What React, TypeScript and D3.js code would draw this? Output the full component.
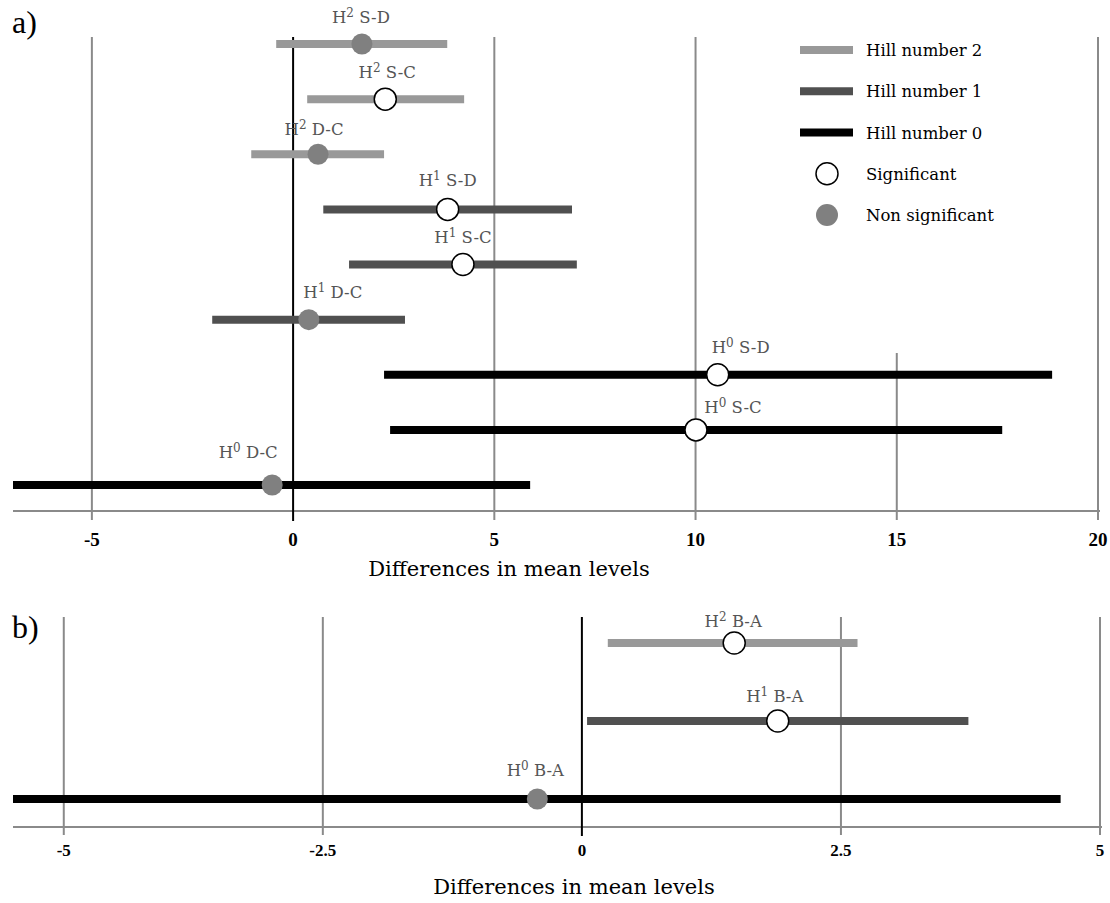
import React from "react";
import * as d3 from "d3";

// ---------- Data: panel a ----------
const hillA = [2, 2, 2, 1, 1, 1, 0, 0, 0];
const compA = ["S-D", "S-C", "D-C", "S-D", "S-C", "D-C", "S-D", "S-C", "D-C"];
const meanA = [1.71, 2.29, 0.62, 3.84, 4.22, 0.39, 10.55, 10.01, -0.52];
const lowA = [-0.42, 0.35, -1.04, 0.75, 1.39, -2.01, 2.26, 2.41, -7.5];
const highA = [3.83, 4.25, 2.26, 6.93, 7.05, 2.78, 18.86, 17.62, 5.89];
const sigA = [false, true, false, true, true, false, true, true, false];
const ticksA = [-5, 0, 5, 10, 15, 20];

// ---------- Data: panel b ----------
const hillB = [2, 1, 0];
const compB = ["B-A", "B-A", "B-A"];
const meanB = [1.47, 1.89, -0.43];
const lowB = [0.25, 0.05, -6.0];
const highB = [2.66, 3.73, 4.62];
const sigB = [true, true, false];
const ticksB = [-5, -2.5, 0, 2.5, 5];
const tickLabelsB = ["-5", "-2.5", "0", "2.5", "5"];

const legendItems = ["Hill number 2", "Hill number 1", "Hill number 0", "Significant", "Non significant"];

// ---------- Layout / style ----------
const hillColor: Record<number, string> = { 2: "#999999", 1: "#505050", 0: "#000000" };
const labelNudgeA = [[-1, 27], [2, 27], [-4, 25], [0, 29], [0, 28], [24, 28], [23, 28], [37, 23], [-24, 33]];
const labelNudgeB = [[-1, 22], [-3, 25], [-2, 29]];
const FONT = "'DejaVu Serif', serif";
const TICKFONT = "'Liberation Serif', 'Times New Roman', serif";

function Label({ x, y, hill, comp }: { x: number; y: number; hill: number; comp: string }) {
  return (
    <text x={x} y={y} textAnchor="middle" fill="#555555" fontFamily={FONT} fontSize={16.5}>
      <tspan>H</tspan>
      <tspan dy={-6} fontSize={12}>{hill}</tspan>
      <tspan dy={6}>{" " + comp}</tspan>
    </text>
  );
}

function Panel({
  xScale, yScale, ticks, tickLabels, hill, comp, mean, low, high, sig, nudge,
  gridTop, axisY, gridBottom, zeroTop, tickLabelY, tickSize, titleY, titleX, panelLabel, panelLabelY, gridTopOverride,
}: any) {
  const [x0, x1] = xScale.range();
  return (
    <g>
      <defs>
        <clipPath id={"clip" + panelLabel}>
          <rect x={x0} y={0} width={x1 - x0 + 20} height={903} />
        </clipPath>
      </defs>
      {ticks.filter((t: number) => t !== 0).map((t: number) => (
        <line key={t} x1={xScale(t)} x2={xScale(t)} y1={gridTopOverride?.[t] ?? gridTop} y2={gridBottom}
          stroke="#8a8a8a" strokeWidth={2} />
      ))}
      <line x1={x0} x2={x1 + 2} y1={axisY} y2={axisY} stroke="#8a8a8a" strokeWidth={2} />
      <line x1={xScale(0)} x2={xScale(0)} y1={zeroTop} y2={gridBottom + 1} stroke="#000" strokeWidth={2} />
      {ticks.map((t: number, i: number) => (
        <text key={t} x={xScale(t)} y={tickLabelY} textAnchor="middle" fontFamily={TICKFONT} fontWeight="bold"
          fontSize={tickSize} fill="#000">{tickLabels ? tickLabels[i] : String(t)}</text>
      ))}
      <g clipPath={`url(#clip${panelLabel})`}>
        {mean.map((m: number, i: number) => (
          <line key={i} x1={xScale(low[i])} x2={xScale(high[i])} y1={yScale(i)} y2={yScale(i)}
            stroke={hillColor[hill[i]]} strokeWidth={8} />
        ))}
      </g>
      {mean.map((m: number, i: number) => (
        <circle key={i} cx={xScale(m)} cy={yScale(i)} r={sig[i] ? 11 : 10.5}
          fill={sig[i] ? "#fff" : "#808080"} stroke={sig[i] ? "#000" : "none"} strokeWidth={1.5} />
      ))}
      {mean.map((m: number, i: number) => (
        <Label key={i} x={xScale(m) + nudge[i][0]} y={yScale(i) - nudge[i][1] + 6} hill={hill[i]} comp={comp[i]} />
      ))}
      <text x={titleX} y={titleY} textAnchor="middle" fontFamily={FONT} fontSize={21} fill="#000">
        Differences in mean levels
      </text>
      <text x={12} y={panelLabelY} fontFamily={TICKFONT} fontSize={32} fill="#000">{panelLabel})</text>
    </g>
  );
}

export default function App() {
  const xA = d3.scaleLinear().domain([-6.96, 20]).range([13, 1098]);
  const yA = d3.scalePoint<number>().domain(d3.range(hillA.length)).range([44, 485]);
  const xB = d3.scaleLinear().domain([-5.49, 5]).range([13, 1100]);
  const yB = d3.scalePoint<number>().domain(d3.range(hillB.length)).range([643, 799]);

  const legendColors = [hillColor[2], hillColor[1], hillColor[0]];
  const legendY = d3.scalePoint<number>().domain(d3.range(legendItems.length)).range([50, 215]);

  return (
    <svg width={1110} height={903} style={{ position: "absolute", left: 0, top: 0, background: "#fff" }}>
      <rect width={1110} height={903} fill="#fff" />
      <Panel xScale={xA} yScale={yA} ticks={ticksA} hill={hillA} comp={compA} mean={meanA} low={lowA}
        high={highA} sig={sigA} nudge={labelNudgeA} gridTop={37} axisY={511} gridBottom={520} zeroTop={37}
        tickLabelY={546} tickSize={19} titleX={509} titleY={576} panelLabel="a" panelLabelY={33}
        gridTopOverride={{ 15: 353 }} />
      <Panel xScale={xB} yScale={yB} ticks={ticksB} tickLabels={tickLabelsB} hill={hillB} comp={compB} mean={meanB}
        low={lowB} high={highB} sig={sigB} nudge={labelNudgeB} gridTop={617} axisY={827} gridBottom={835}
        zeroTop={617} tickLabelY={856} tickSize={17} titleX={574} titleY={894} panelLabel="b" panelLabelY={638} />
      <g>
        {legendItems.map((name, i) => (
          <g key={name}>
            {i < 3 ? (
              <line x1={800} x2={853} y1={legendY(i)} y2={legendY(i)} stroke={legendColors[i]} strokeWidth={8} />
            ) : (
              <circle cx={827} cy={legendY(i)} r={11} fill={i === 3 ? "#fff" : "#808080"}
                stroke={i === 3 ? "#000" : "none"} strokeWidth={1.5} />
            )}
            <text x={866} y={(legendY(i) as number) + 6} fontFamily={FONT} fontSize={16.5} fill="#000">{name}</text>
          </g>
        ))}
      </g>
    </svg>
  );
}
